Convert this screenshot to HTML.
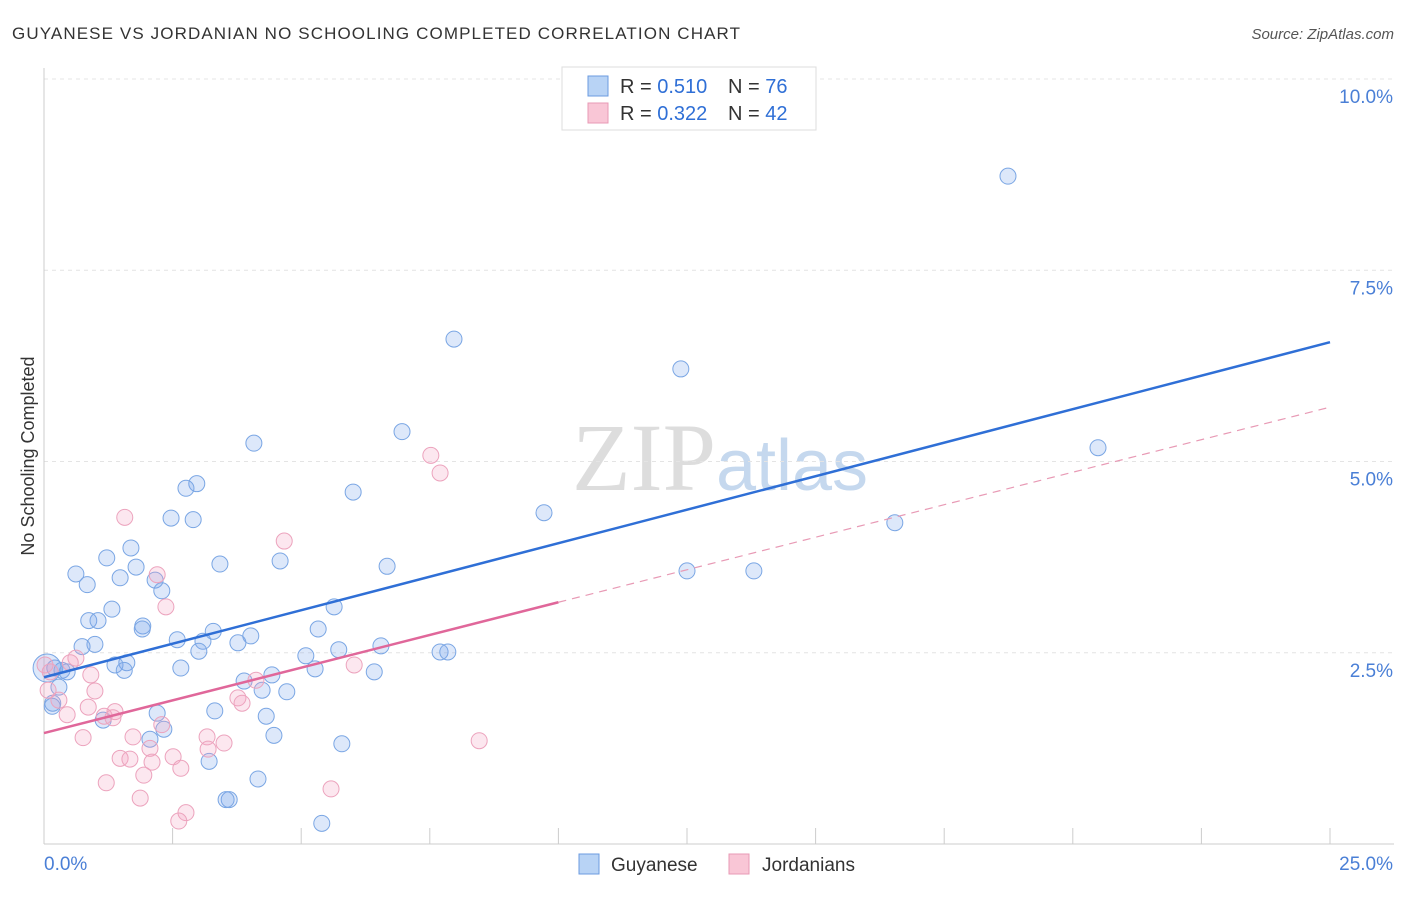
<!DOCTYPE html>
<html><head><meta charset="utf-8"><style>
body{margin:0;background:#fff;font-family:"Liberation Sans",sans-serif;}
</style></head><body>
<svg width="1406" height="892" xmlns="http://www.w3.org/2000/svg" style="font-family:'Liberation Sans',sans-serif">
<text x="12" y="39" font-size="17" fill="#333" textLength="728">GUYANESE VS JORDANIAN NO SCHOOLING COMPLETED CORRELATION CHART</text>
<text x="1394" y="39" font-size="15" fill="#555" font-style="italic" text-anchor="end">Source: ZipAtlas.com</text>
<text x="720" y="490" font-size="96" fill="#ddd" text-anchor="middle" font-family="Liberation Serif">ZIP<tspan fill="#c5d8ee" font-family="Liberation Sans" font-size="72">atlas</tspan></text>
<g id="grid"></g>
<g id="axes"></g>
<g id="marks"></g>
<text x="34" y="456" font-size="18" fill="#333" text-anchor="middle" transform="rotate(-90 34 456)">No Schooling Completed</text>
<g>
<rect x="562" y="67" width="254" height="63" fill="#fff" stroke="#ddd"/>
<rect x="588" y="76" width="20" height="20" fill="#b8d3f5" stroke="#6b9be0"/>
<rect x="588" y="103" width="20" height="20" fill="#f9c6d6" stroke="#e89ab5"/>
<text x="620" y="93" font-size="20" fill="#333">R = <tspan fill="#2f6fd6">0.510</tspan></text>
<text x="728" y="93" font-size="20" fill="#333">N = <tspan fill="#2f6fd6">76</tspan></text>
<text x="620" y="120" font-size="20" fill="#333">R = <tspan fill="#2f6fd6">0.322</tspan></text>
<text x="728" y="120" font-size="20" fill="#333">N = <tspan fill="#2f6fd6">42</tspan></text>
</g>
<g>
<rect x="579" y="854" width="20" height="20" fill="#b8d3f5" stroke="#6b9be0"/>
<text x="611" y="871" font-size="19" fill="#333">Guyanese</text>
<rect x="729" y="854" width="20" height="20" fill="#f9c6d6" stroke="#e89ab5"/>
<text x="762" y="871" font-size="19" fill="#333">Jordanians</text>
</g>
</svg>
<script>
const xTicks=[0,2.5,5,7.5,10,12.5,15,17.5,20,22.5,25];
const yTicks=[2.5,5,7.5,10];
const yTickLabels=["2.5%","5.0%","7.5%","10.0%"];
const bluePx=[[1008,176],[454,339],[681,369],[1098,448],[402,432],[254,443],[197,484],[186,488],[353,492],[544,513],[895,523],[171,518],[193,520],[131,548],[107,558],[220,564],[280,561],[387,566],[136,567],[76,574],[120,578],[87,585],[155,580],[162,591],[687,571],[754,571],[112,609],[334,607],[89,621],[98,621],[143,626],[142,629],[318,629],[213,631],[251,636],[177,640],[203,641],[238,643],[95,644],[82,647],[199,651],[339,650],[381,646],[440,652],[448,652],[306,656],[127,663],[115,665],[55,668],[62,670],[67,672],[124,670],[181,668],[315,669],[272,675],[374,672],[244,681],[262,690],[287,692],[59,687],[52,706],[53,703],[215,711],[157,713],[266,716],[103,720],[164,729],[274,735],[150,739],[342,744],[209,761],[258,779],[229,800],[226,800],[322,823],[47,668]];
const pinkPx=[[431,455],[440,473],[125,517],[284,541],[157,575],[166,607],[76,658],[70,663],[91,675],[95,691],[50,672],[48,690],[59,700],[88,707],[67,715],[104,716],[115,712],[113,718],[238,698],[242,703],[256,680],[354,665],[83,738],[133,737],[162,725],[207,737],[224,743],[150,748],[120,758],[130,759],[173,757],[152,762],[208,749],[144,775],[181,768],[106,783],[140,798],[331,789],[186,813],[179,821],[479,741],[45,665]];
const guyaneseX=bluePx.map(p=>+((p[0]-44)/51.44).toFixed(2));
const guyaneseY=bluePx.map(p=>+((844-p[1])/76.5).toFixed(2));
const jordanX=pinkPx.map(p=>+((p[0]-44)/51.44).toFixed(2));
const jordanY=pinkPx.map(p=>+((844-p[1])/76.5).toFixed(2));
const blueTrend=[[0,2.18],[25,6.56]];
const pinkTrend=[[0,1.45],[10,3.16],[25,5.71]];
const X=v=>44+v*51.44, Y=v=>844-v*76.5;
const NS="http://www.w3.org/2000/svg";
function mk(tag,attrs,parent){const e=document.createElementNS(NS,tag);for(const k in attrs)e.setAttribute(k,attrs[k]);document.getElementById(parent).appendChild(e);return e;}
yTicks.forEach((t,i)=>{
 const l=mk('line',{x1:44,x2:1394,y1:Y(t),y2:Y(t),stroke:'#e4e4e4','stroke-dasharray':'4,4'},'grid');
 
 
 const tx=mk('text',{x:1393,y:Y(t)+24,'font-size':19,fill:'#4a7fd6','text-anchor':'end'},'axes');
 tx.textContent=yTickLabels[i];
 
 
});
const ax=mk('line',{x1:44,x2:44,y1:68,y2:844,stroke:'#ccc'},'axes');


const bx=mk('line',{x1:44,x2:1394,y1:844,y2:844,stroke:'#ccc'},'axes');


xTicks.forEach(t=>{const l=mk('line',{x1:X(t),x2:X(t),y1:828,y2:844,stroke:'#ccc'},'axes');
 
 });
const x0=mk('text',{x:44,y:870,'font-size':19,fill:'#4a7fd6'},'axes');x0.textContent='0.0%';


const x1=mk('text',{x:1393,y:870,'font-size':19,fill:'#4a7fd6','text-anchor':'end'},'axes');x1.textContent='25.0%';


guyaneseX.forEach((v,i)=>{const c=mk('circle',{cx:X(v),cy:Y(guyaneseY[i]),r:i==guyaneseX.length-1?14:8,fill:'rgba(120,165,235,0.25)',stroke:'#7aa6e4','stroke-width':1},'marks');
 
 });
jordanX.forEach((v,i)=>{const c=mk('circle',{cx:X(v),cy:Y(jordanY[i]),r:8,fill:'rgba(245,160,190,0.25)',stroke:'#eca3bd','stroke-width':1},'marks');
 
 });
const bl=mk('line',{x1:X(blueTrend[0][0]),y1:Y(blueTrend[0][1]),x2:X(blueTrend[1][0]),y2:Y(blueTrend[1][1]),stroke:'#2f6fd6','stroke-width':2.5},'marks');


const pl=mk('line',{x1:X(pinkTrend[0][0]),y1:Y(pinkTrend[0][1]),x2:X(pinkTrend[1][0]),y2:Y(pinkTrend[1][1]),stroke:'#e0679a','stroke-width':2.5},'marks');


const pd=mk('line',{x1:X(pinkTrend[1][0]),y1:Y(pinkTrend[1][1]),x2:X(pinkTrend[2][0]),y2:Y(pinkTrend[2][1]),stroke:'#e89ab5','stroke-width':1.2,'stroke-dasharray':'8,6'},'marks');


</script>
</body></html>
